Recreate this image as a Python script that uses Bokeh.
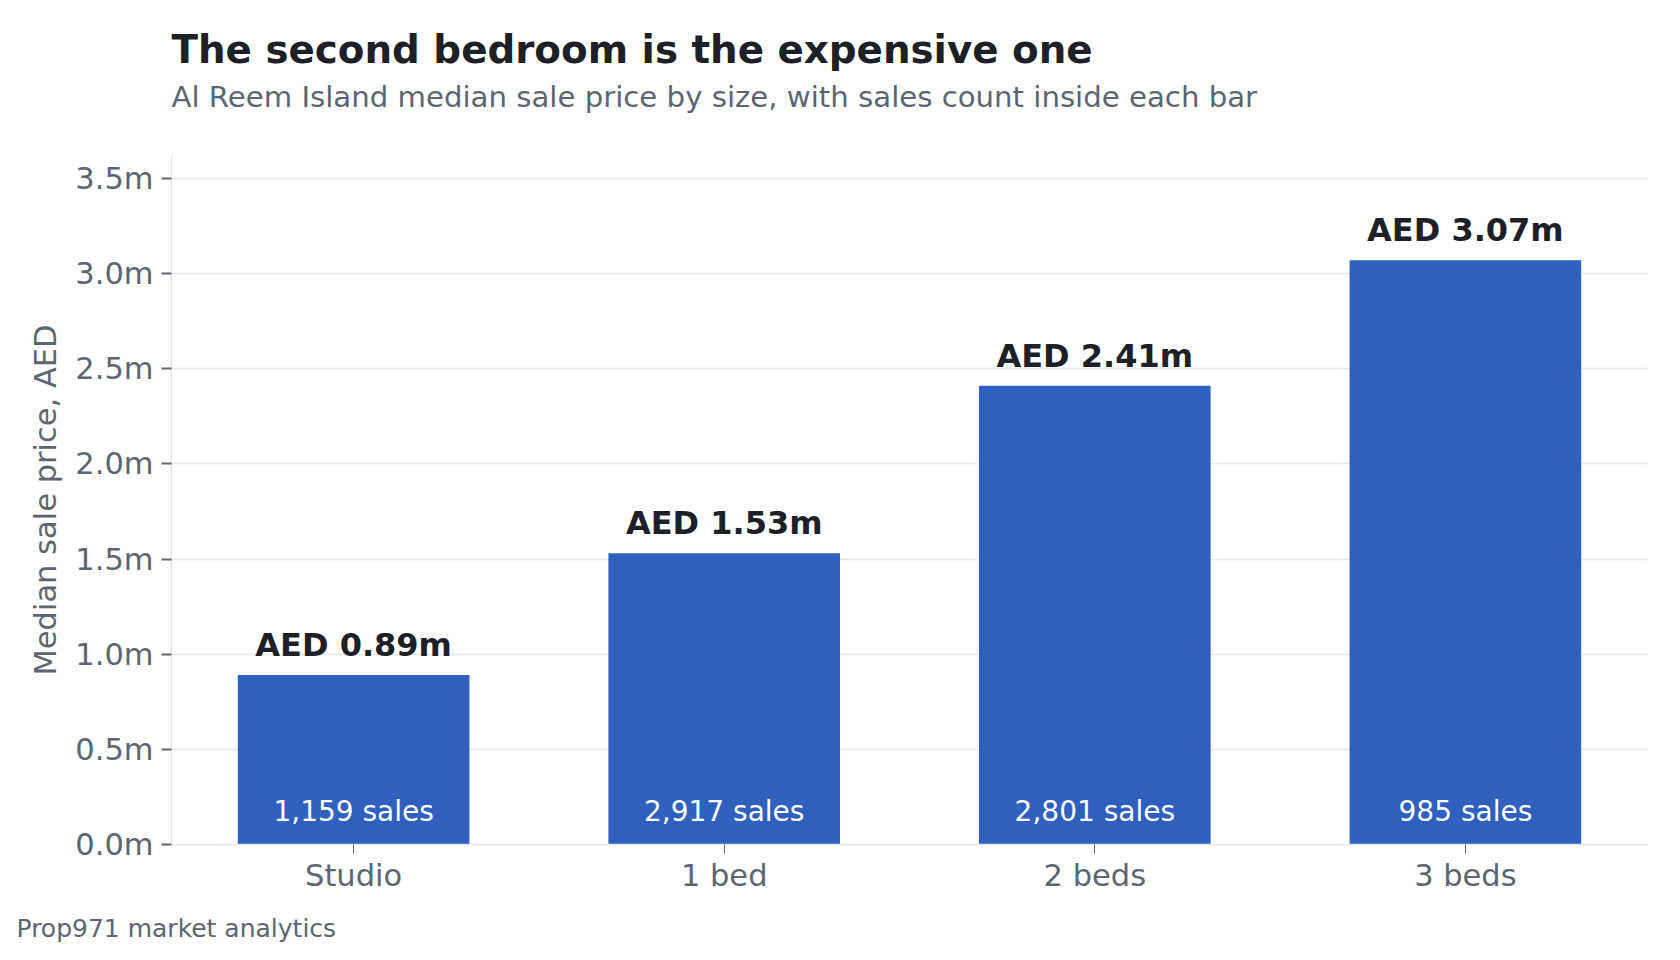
from bokeh.plotting import figure
from bokeh.models import ColumnDataSource, FactorRange, Range1d, Title, PrintfTickFormatter
from bokeh.core.properties import value
from bokeh.embed import file_html
from bokeh.resources import INLINE

# data
sizes = ["Studio", "1 bed", "2 beds", "3 beds"]
median_price_m = [0.89, 1.53, 2.41, 3.07]
sales_count = [1159, 2917, 2801, 985]

FONT = "DejaVu Sans"
BAR = "#2f5fbf"
DARK = "#1d2026"
GREY = "#5b6672"
LIGHT = "#e5e6ea"

src = ColumnDataSource(data=dict(
    size=sizes,
    price=median_price_m,
    top_label=["AED %.2fm" % v for v in median_price_m],
    sales_label=["{:,} sales".format(n) for n in sales_count],
    zero=[0] * len(sizes),
))

p = figure(width=1672, height=960, x_range=FactorRange(*sizes, range_padding=-0.0043),
           y_range=Range1d(0, 3.62), output_backend="svg", toolbar_location=None,
           min_border_left=171, min_border_right=25, min_border_top=155,
           min_border_bottom=116)

p.vbar(x="size", top="price", width=0.625, source=src, color=BAR, line_color=None)

p.text(x="size", y="price", text="top_label", source=src, y_offset=-30,
       text_align="center", text_baseline="alphabetic", text_color=DARK,
       text_font=value(FONT), text_font_size="32px", text_font_style="bold")
p.text(x="size", y="zero", text="sales_label", source=src, y_offset=-33,
       text_align="center", text_baseline="alphabetic", text_color="white",
       text_font=value(FONT), text_font_size="28px")

p.outline_line_color = None
p.background_fill_color = "white"
p.border_fill_color = "white"

p.xgrid.grid_line_color = None
p.ygrid.grid_line_color = LIGHT
p.ygrid.grid_line_width = 1.5

p.yaxis.formatter = PrintfTickFormatter(format="%.1fm")
p.yaxis.ticker = [0, 0.5, 1.0, 1.5, 2.0, 2.5, 3.0, 3.5]
p.yaxis.axis_label = "Median sale price, AED"
p.yaxis.axis_label_text_font = FONT
p.yaxis.axis_label_text_font_size = "30.5px"
p.yaxis.axis_label_text_font_style = "normal"
p.yaxis.axis_label_text_color = GREY
p.yaxis.axis_label_standoff = 9
p.yaxis.minor_tick_line_color = None
p.yaxis.major_tick_line_color = GREY
p.yaxis.major_tick_line_width = 2
p.yaxis.major_tick_in = 0
p.yaxis.major_tick_out = 10
p.yaxis.major_label_standoff = 8

p.xaxis.major_tick_line_color = GREY
p.xaxis.major_tick_in = 0
p.xaxis.major_tick_out = 9
p.xaxis.major_label_standoff = 4

for ax in (p.xaxis, p.yaxis):
    ax.axis_line_color = LIGHT
    ax.axis_line_width = 1.5
    ax.major_label_text_font = FONT
    ax.major_label_text_font_size = "30.5px"
    ax.major_label_text_color = GREY

# titles (first added sits closest to the plot) and footer
p.title.visible = False
p.add_layout(Title(text="Al Reem Island median sale price by size, with sales count inside each bar",
                   align="left", text_font=FONT, text_font_size="29.2px",
                   text_font_style="normal", text_color=GREY, standoff=83), "above")
p.add_layout(Title(text="The second bedroom is the expensive one",
                   align="left", text_font=FONT, text_font_size="38.8px",
                   text_font_style="bold", text_color=DARK, standoff=-71), "above")
p.add_layout(Title(text="Prop971 market analytics", align="left", offset=-155,
                   text_font=FONT, text_font_size="25px", text_font_style="normal",
                   text_color=GREY, standoff=33), "below")

open("out.html", "w").write(file_html(p, INLINE))
